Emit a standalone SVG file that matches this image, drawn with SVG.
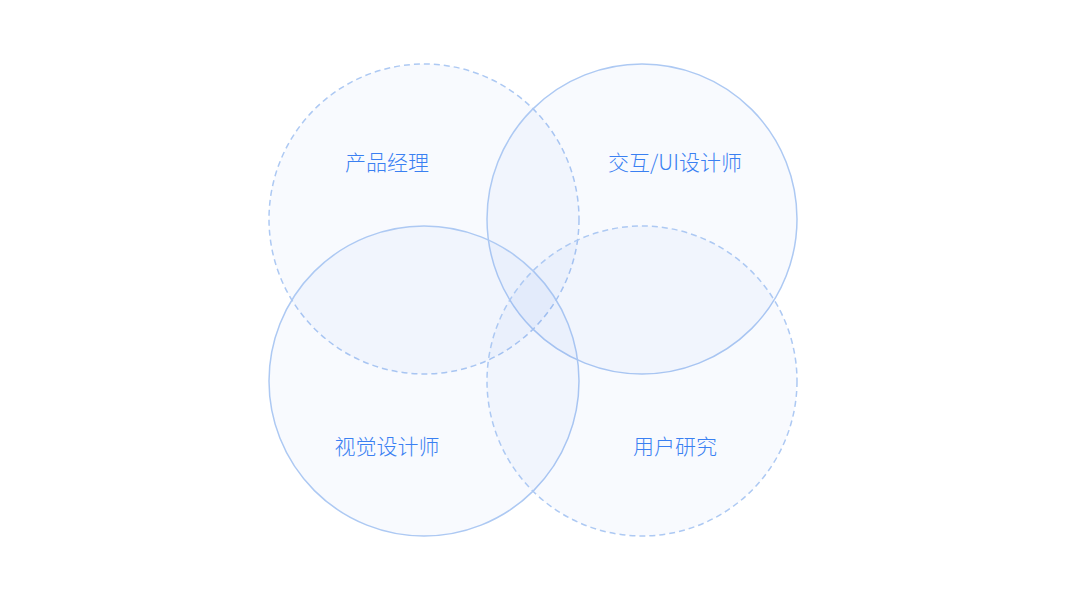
<svg xmlns="http://www.w3.org/2000/svg" width="1067" height="600" viewBox="0 0 1067 600">
<style>
.c{fill:#3a78f0;fill-opacity:0.035;stroke:#adc9f3;stroke-width:1.5}
.d{stroke-dasharray:6 4}
.t{font-family:"Noto Sans CJK SC","Noto Sans",sans-serif;font-size:21px;font-weight:300;fill:#3a80f2;text-anchor:middle}
</style>
<rect width="1067" height="600" fill="#ffffff"/>
<g id="pm"><circle class="c d" cx="424" cy="219" r="155"/><text class="t" x="387" y="170">产品经理</text></g>
<g id="ui"><circle class="c" cx="642" cy="219" r="155"/><text class="t" x="675" y="170">交互/UI设计师</text></g>
<g id="vd"><circle class="c" cx="424" cy="381" r="155"/><text class="t" x="387" y="454">视觉设计师</text></g>
<g id="ur"><circle class="c d" cx="642" cy="381" r="155"/><text class="t" x="675" y="454">用户研究</text></g>
<g id="connectors"></g>
</svg>
